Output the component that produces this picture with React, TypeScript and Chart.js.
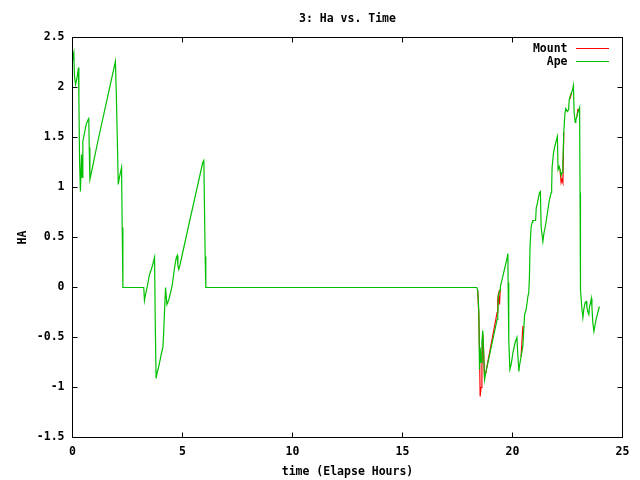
import React, { useEffect, useRef } from "react";
import { Chart, registerables } from "chart.js";

Chart.register(...registerables);

const chartTitle = "3: Ha vs. Time";
const xAxisTitle = "time (Elapse Hours)";
const yAxisTitle = "HA";
const seriesNames = ["Mount", "Ape"];

const xTickRange = { min: 0, max: 25, step: 5 };
const yTickRange = { min: -1.5, max: 2.5, step: 0.5 };

// elapsed time in hours
const timeHours = [
  0.0, 0.02, 0.06, 0.09, 0.14, 0.2, 0.24, 0.27, 0.29, 0.32, 0.36, 0.41, 0.44, 0.47, 0.55, 0.62, 0.71, 0.74,
  0.76, 0.79, 0.85, 1.15, 1.95, 1.99, 2.05, 2.08, 2.14, 2.23, 2.26, 2.29, 3.24, 3.27, 3.32, 3.39, 3.5, 3.58,
  3.65, 3.73, 3.76, 3.8, 3.85, 3.91, 3.96, 4.03, 4.11, 4.15, 4.2, 4.23, 4.29, 4.33, 4.38, 4.46, 4.53, 4.64,
  4.71, 4.76, 4.79, 4.83, 4.89, 5.32, 5.92, 5.97, 5.99, 6.03, 6.06, 18.38, 18.42, 18.47, 18.5, 18.53, 18.57,
  18.61, 18.65, 18.68, 18.73, 18.77, 19.3, 19.33, 19.36, 19.41, 19.44, 19.45, 19.74, 19.79, 19.8, 19.83,
  19.88, 19.94, 20.02, 20.12, 20.2, 20.24, 20.29, 20.32, 20.39, 20.47, 20.52, 20.55, 20.62, 20.7, 20.74,
  20.77, 20.8, 20.85, 20.89, 20.92, 21.05, 21.08, 21.12, 21.18, 21.23, 21.27, 21.3, 21.38, 21.42, 21.48,
  21.53, 21.61, 21.68, 21.76, 21.78, 21.8, 21.86, 21.93, 21.98, 22.04, 22.07, 22.12, 22.16, 22.21, 22.25,
  22.29, 22.33, 22.38, 22.42, 22.5, 22.55, 22.58, 22.63, 22.69, 22.73, 22.77, 22.8, 22.85, 22.88, 22.93,
  22.97, 23.02, 23.05, 23.07, 23.09, 23.15, 23.2, 23.24, 23.3, 23.35, 23.38, 23.42, 23.47, 23.5, 23.55,
  23.58, 23.61, 23.65, 23.7, 23.74, 23.8, 23.88, 23.95,
];

// Ape hour angle
const apeHa = [
  2.33, 2.31, 2.35, 2.11, 2.03, 2.09, 2.15, 2.2, 1.89, 1.28, 0.96, 1.33, 1.1, 1.46, 1.55, 1.63, 1.68, 1.7,
  1.4, 1.08, 1.14, 1.46, 2.26, 1.95, 1.35, 1.03, 1.11, 1.2, 0.6, 0.0, 0.0, -0.13, -0.07, 0.0, 0.13, 0.18,
  0.23, 0.3, -0.31, -0.91, -0.85, -0.8, -0.75, -0.67, -0.6, -0.42, -0.15, 0.0, -0.17, -0.15, -0.12, -0.05, 0.02, 0.2,
  0.29, 0.32, 0.22, 0.18, 0.23, 0.66, 1.25, 1.27, 0.95, 0.31, 0.0, 0.0, -0.03, -0.24, -0.82, -0.6, -0.75,
  -0.54, -0.43, -0.6, -0.92, -0.87, -0.32, -0.29, -0.07, -0.05, -0.02, 0.01, 0.28, 0.34, 0.05, -0.52,
  -0.82, -0.77, -0.65, -0.55, -0.5, -0.67, -0.84, -0.78, -0.69, -0.59, -0.39, -0.27, -0.22, -0.09, -0.05,
  0.11, 0.43, 0.61, 0.65, 0.67, 0.67, 0.8, 0.83, 0.9, 0.95, 0.96, 0.61, 0.46, 0.53, 0.6,
  0.66, 0.78, 0.88, 0.95, 1.0, 1.2, 1.34, 1.42, 1.46, 1.51, 1.18, 1.21, 1.18, 1.12, 1.15,
  1.23, 1.55, 1.73, 1.79, 1.76, 1.78, 1.88, 1.92, 1.95, 1.98, 2.02, 1.75, 1.65, 1.68, 1.71,
  1.75, 1.78, 1.8, 0.95, -0.02, -0.2, -0.3, -0.22, -0.15, -0.14, -0.19, -0.24, -0.27, -0.19, -0.15,
  -0.11, -0.19, -0.35, -0.44, -0.39, -0.32, -0.25, -0.19,
];

// Mount hour angle
const mountHa = [
  2.33, 2.31, 2.35, 2.11, 2.03, 2.09, 2.15, 2.2, 1.89, 1.28, 0.96, 1.33, 1.1, 1.46, 1.55, 1.63, 1.68, 1.7,
  1.4, 1.08, 1.14, 1.46, 2.26, 1.95, 1.35, 1.03, 1.11, 1.2, 0.6, 0.0, 0.0, -0.13, -0.07, 0.0, 0.13, 0.18,
  0.23, 0.3, -0.31, -0.91, -0.85, -0.8, -0.75, -0.67, -0.6, -0.42, -0.15, 0.0, -0.17, -0.15, -0.12, -0.05, 0.02, 0.2,
  0.29, 0.32, 0.22, 0.18, 0.23, 0.66, 1.25, 1.27, 0.95, 0.31, 0.0, 0.0, -0.03, -0.29, -0.64, -1.09, -1.0,
  -0.8, -0.47, -0.59, -0.92, -0.87, -0.25, -0.12, -0.07, -0.17, -0.02, 0.01, 0.28, 0.34, 0.05, -0.52,
  -0.82, -0.77, -0.65, -0.55, -0.5, -0.67, -0.84, -0.78, -0.69, -0.39, -0.39, -0.27, -0.22, -0.09, -0.05,
  0.11, 0.43, 0.61, 0.65, 0.67, 0.67, 0.8, 0.83, 0.9, 0.95, 0.96, 0.61, 0.46, 0.53, 0.6,
  0.66, 0.78, 0.88, 0.95, 1.0, 1.2, 1.34, 1.42, 1.46, 1.51, 1.18, 1.21, 1.18, 1.05, 1.08,
  1.05, 1.55, 1.73, 1.79, 1.76, 1.78, 1.88, 1.9, 1.95, 1.98, 2.02, 1.75, 1.65, 1.68, 1.71,
  1.78, 1.78, 1.8, 0.95, -0.02, -0.2, -0.3, -0.22, -0.15, -0.14, -0.19, -0.24, -0.27, -0.19, -0.15,
  -0.11, -0.19, -0.35, -0.44, -0.39, -0.32, -0.25, -0.19,
];

const seriesColors = ["#ff0000", "#00c000"];
const FONT_FAMILY = "'DejaVu Sans Mono', 'Liberation Mono', monospace";
const FONT_SIZE = 11.5;

const gnuplotFrame = {
  id: "gnuplotFrame",
  afterDraw(chart: any) {
    const { ctx, chartArea } = chart;
    const { left, right, top, bottom } = chartArea;
    const xs = chart.scales.x;
    const ys = chart.scales.y;
    ctx.save();
    ctx.strokeStyle = "#000";
    ctx.lineWidth = 1;
    ctx.strokeRect(left, top, right - left, bottom - top);
    const tl = 5;
    ctx.beginPath();
    xs.ticks.forEach((t: any) => {
      const p = xs.getPixelForValue(t.value);
      ctx.moveTo(p, bottom);
      ctx.lineTo(p, bottom - tl);
      ctx.moveTo(p, top);
      ctx.lineTo(p, top + tl);
    });
    ys.ticks.forEach((t: any) => {
      const p = ys.getPixelForValue(t.value);
      ctx.moveTo(left, p);
      ctx.lineTo(left + tl, p);
      ctx.moveTo(right, p);
      ctx.lineTo(right - tl, p);
    });
    ctx.stroke();

    // title
    ctx.fillStyle = "#000";
    ctx.font = `bold ${FONT_SIZE}px ${FONT_FAMILY}`;
    ctx.textAlign = "center";
    ctx.textBaseline = "middle";
    ctx.fillText(chartTitle, (left + right) / 2, 19);

    // legend
    ctx.textAlign = "right";
    const rows = [48.5, 61.5];
    seriesNames.forEach((name, i) => {
      const y = rows[i];
      ctx.fillStyle = "#000";
      ctx.fillText(name, 567.5, y + 0.5);
      ctx.strokeStyle = seriesColors[i];
      ctx.beginPath();
      ctx.moveTo(576, y);
      ctx.lineTo(609, y);
      ctx.stroke();
    });
    ctx.restore();
  },
};

export default function App() {
  const canvasRef = useRef<HTMLCanvasElement | null>(null);

  useEffect(() => {
    const canvas = canvasRef.current;
    if (!canvas) return;
    const mountPts = timeHours.map((t, i) => ({ x: t, y: mountHa[i] }));
    const apePts = timeHours.map((t, i) => ({ x: t, y: apeHa[i] }));
    const tickFont = { family: FONT_FAMILY, size: FONT_SIZE, weight: "bold" as const };
    // Mount is hidden under Ape where the two coincide; only show where it differs
    const mountSegColor = (c: any) => {
      const a = c.p0DataIndex;
      const b = c.p1DataIndex;
      const same = mountHa[a] === apeHa[a] && mountHa[b] === apeHa[b];
      return same ? "rgba(0,0,0,0)" : seriesColors[0];
    };
    const chart = new Chart(canvas, {
      type: "line",
      data: {
        datasets: [
          {
            label: seriesNames[1],
            data: apePts,
            borderColor: seriesColors[1],
            borderWidth: 1.2,
            pointRadius: 0,
            tension: 0,
            fill: false,
            order: 0,
          },
          {
            label: seriesNames[0],
            data: mountPts,
            borderColor: seriesColors[0],
            borderWidth: 1.2,
            pointRadius: 0,
            tension: 0,
            fill: false,
            order: 1,
            segment: { borderColor: mountSegColor },
          },
        ],
      },
      options: {
        responsive: false,
        animation: false,
        events: [],
        layout: { padding: { top: 37.5, left: 0, right: 17.5, bottom: 0 } },
        plugins: {
          legend: { display: false },
          tooltip: { enabled: false },
          title: { display: false },
        },
        scales: {
          x: {
            type: "linear",
            min: xTickRange.min,
            max: xTickRange.max,
            grid: { display: false, drawTicks: false },
            border: { display: false },
            ticks: {
              stepSize: xTickRange.step,
              autoSkip: false,
              maxRotation: 0,
              padding: 8,
              color: "#000",
              font: tickFont,
            },
            title: {
              display: true,
              text: xAxisTitle,
              color: "#000",
              font: tickFont,
              padding: { top: 0, bottom: 1.1 },
            },
            afterFit: (s: any) => {
              s.height = 42.5;
            },
          },
          y: {
            type: "linear",
            min: yTickRange.min,
            max: yTickRange.max,
            grid: { display: false, drawTicks: false },
            border: { display: false },
            ticks: {
              stepSize: yTickRange.step,
              autoSkip: false,
              padding: 8,
              color: "#000",
              font: tickFont,
              callback: (v: any) => String(+Number(v).toFixed(2)),
            },
            title: {
              display: true,
              text: yAxisTitle,
              color: "#000",
              font: tickFont,
              padding: { top: 16.6, bottom: 0 },
            },
            afterFit: (s: any) => {
              s.width = 72.5;
            },
          },
        },
      },
      plugins: [gnuplotFrame],
    });
    return () => chart.destroy();
  }, []);

  return (
    <div style={{ position: "fixed", left: 0, top: 0, width: 640, height: 480, background: "#fff" }}>
      <canvas ref={canvasRef} width={640} height={480} style={{ display: "block", width: 640, height: 480 }} />
    </div>
  );
}
